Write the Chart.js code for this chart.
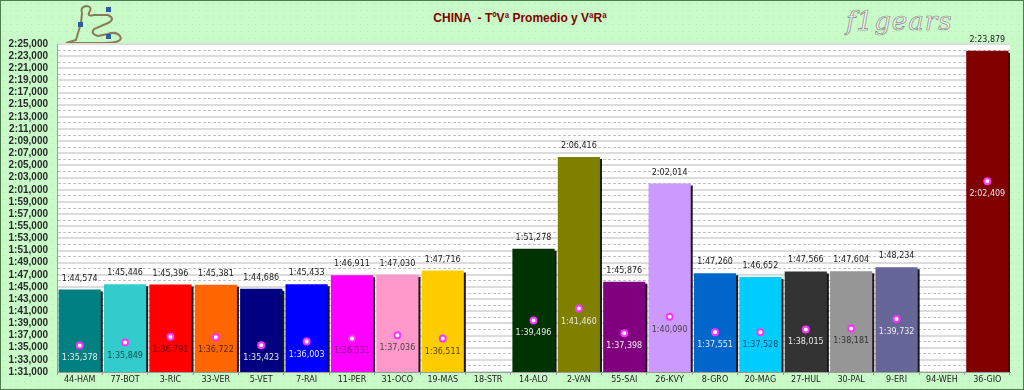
<!DOCTYPE html>
<html>
<head>
<meta charset="utf-8">
<script src="https://cdn.jsdelivr.net/npm/chart.js@4.4.1/dist/chart.umd.min.js"></script>
<style>
html,body{margin:0;padding:0;background:#ccffcc;}
#wrap{position:relative;width:1024px;height:390px;overflow:hidden;background-color:#c9fbc9;
  background-image:radial-gradient(#b6e6b6 0.6px, transparent 0.8px);background-size:7px 7px;}
#frame{position:absolute;left:0;top:0;width:1024px;height:390px;box-sizing:border-box;border:1px solid #4f7d4f;pointer-events:none}
canvas{position:absolute;left:0;top:0}
#title{position:absolute;left:0;width:1040px;top:11px;text-align:center;font:bold 12px "Liberation Sans",Arial,sans-serif;color:#800000;white-space:pre}
#brand{position:absolute;left:846px;top:6px;font:italic 26px "DejaVu Serif",serif;color:#f4f4f4;-webkit-text-stroke:0.7px #888;letter-spacing:1px}
#track{position:absolute;left:64px;top:3px}
</style>
</head>
<body>
<div id="wrap">
  <svg id="track" width="64" height="42" viewBox="0 0 64 42">
    <path d="M2 40 L40 40 Q60 40 56 33 Q52 28 44 31 L34 33 Q26 31 30 26 L44 20 Q52 16 44 12 L30 12 Q22 14 26 8 Q28 3 22 3 Q16 4 18 10 L17 20 L14 30 L12 37 Z" fill="none" stroke="#8a7a55" stroke-width="2"/>
    <rect x="14" y="19" width="5" height="5" fill="#2a5fa8"/>
    <rect x="42" y="4" width="5" height="5" fill="#2a5fa8"/>
    <rect x="42" y="31" width="5" height="5" fill="#2a5fa8"/>
  </svg>
  <div id="title">CHINA  - TºVª Promedio y VªRª</div>
  <div id="brand">f1gears</div>
  <canvas id="chart" width="1024" height="390"></canvas>
  <div id="frame"></div>
</div>
<script>
const drivers = ['44-HAM','77-BOT','3-RIC','33-VER','5-VET','7-RAI','11-PER','31-OCO','19-MAS','18-STR','14-ALO','2-VAN','55-SAI','26-KVY','8-GRO','20-MAG','27-HUL','30-PAL','9-ERI','94-WEH','36-GIO'];
// average lap time (bars) in seconds
const avgLap = [104.574,105.446,105.396,105.381,104.686,105.433,106.911,107.030,107.716,null,111.278,126.416,105.876,122.014,107.260,106.652,107.566,107.604,108.234,null,143.879];
// fastest lap (points) in seconds
const bestLap = [95.378,95.849,96.791,96.722,95.423,96.003,96.531,97.036,96.511,null,99.496,101.460,97.398,100.090,97.551,97.528,98.015,98.181,99.732,null,122.409];
const yMin = 91, yMax = 145;

const barColors = ['#008080','#33cccc','#ff0000','#ff6600','#000080','#0000ff','#ff00ff','#ff99cc','#ffcc00','#ffffff','#003300','#808000','#800080','#cc99ff','#0066cc','#00ccff','#333333','#969696','#666699','#ffffff','#800000'];
const pointTextColors = ['#e8e8e8','#0b4f4f','#5a0000','#5a2200','#e8e8e8','#e8e8e8','#7a007a','#444444','#5a4500','#000','#e8e8e8','#e8e8e8','#eeeeee','#444444','#e8e8e8','#0a4a66','#e8e8e8','#333333','#eeeeee','#000','#e8e8e8'];

function fmt(s){
  const t = Math.round(s*1000);
  const m = Math.floor(t/60000);
  const sec = Math.floor((t%60000)/1000);
  const ms = t%1000;
  return m+':'+String(sec).padStart(2,'0')+','+String(ms).padStart(3,'0');
}
const isMajor = v => Math.round(v-yMin)%2===0;

const plotBg = {
  id:'plotBg',
  beforeDraw(chart){
    const {ctx, chartArea:a} = chart;
    ctx.save();
    ctx.fillStyle = '#ffffff';
    ctx.fillRect(a.left, a.top, a.right-a.left, a.bottom-a.top);
    ctx.restore();
  }
};

const barShadow = {
  id:'barShadow',
  beforeDatasetDraw(chart, args){
    if (args.index !== 0) return;
    const ctx = chart.ctx;
    ctx.save();
    ctx.shadowColor = 'rgba(0,0,0,0.9)';
    ctx.shadowOffsetX = 2;
    ctx.shadowOffsetY = 2;
    ctx.shadowBlur = 0;
  },
  afterDatasetDraw(chart, args){
    if (args.index !== 0) return;
    chart.ctx.restore();
  }
};

const valueLabels = {
  id:'valueLabels',
  afterDatasetsDraw(chart){
    const ctx = chart.ctx;
    ctx.save();
    ctx.font = '8px "DejaVu Sans"';
    ctx.textAlign = 'center';
    ctx.textBaseline = 'middle';
    chart.getDatasetMeta(0).data.forEach((el,i)=>{
      if (avgLap[i] == null) return;
      ctx.fillStyle = '#222222';
      ctx.fillText(fmt(avgLap[i]), el.x, el.y-11);
    });
    chart.getDatasetMeta(1).data.forEach((el,i)=>{
      if (bestLap[i] == null) return;
      ctx.fillStyle = pointTextColors[i];
      ctx.fillText(fmt(bestLap[i]), el.x, el.y+13);
    });
    ctx.restore();
  }
};

new Chart(document.getElementById('chart'), {
  data:{
    labels: drivers,
    datasets:[
      {
        type:'bar',
        label:'TºVª Promedio',
        data: avgLap,
        backgroundColor: barColors,
        borderWidth:0,
        barPercentage:0.93,
        categoryPercentage:1,
        order:1
      },
      {
        type:'line',
        label:'VªRª',
        data: bestLap,
        showLine:false,
        pointRadius:3,
        pointBorderWidth:2,
        pointBackgroundColor:'#ffffff',
        pointBorderColor:'#ff33ff',
        order:0
      }
    ]
  },
  options:{
    responsive:false,
    animation:false,
    layout:{padding:{top:44,right:14,left:0,bottom:0}},
    plugins:{legend:{display:false},tooltip:{enabled:false},title:{display:false}},
    scales:{
      x:{
        afterFit(s){ s.height = 18; },
        grid:{offset:true,drawOnChartArea:false,drawTicks:true,tickLength:3,color:'#9a9a9a'},
        border:{color:'#9a9a9a'},
        ticks:{autoSkip:false,maxRotation:0,padding:0,color:'#222222',font:{family:'DejaVu Sans',size:8}}
      },
      y:{
        min:yMin,max:yMax,
        afterFit(s){ s.width = 57; },
        grid:{
          drawTicks:false,
          color:c => (c.tick && isMajor(c.tick.value)) ? '#dcdcdc' : '#c2c2c2',
          lineWidth:c => (c.tick && isMajor(c.tick.value)) ? 2 : 1
        },
        border:{color:'#a0a0a0', dash:c => (c.tick && !isMajor(c.tick.value)) ? [3,2] : []},
        ticks:{
          stepSize:1,autoSkip:false,padding:9,color:'#2a2a2a',
          font:{family:'Liberation Sans',size:10,weight:'bold'},
          callback:v => isMajor(v) ? fmt(v) : ''
        }
      }
    }
  },
  plugins:[plotBg, barShadow, valueLabels]
});
</script>
</body>
</html>
